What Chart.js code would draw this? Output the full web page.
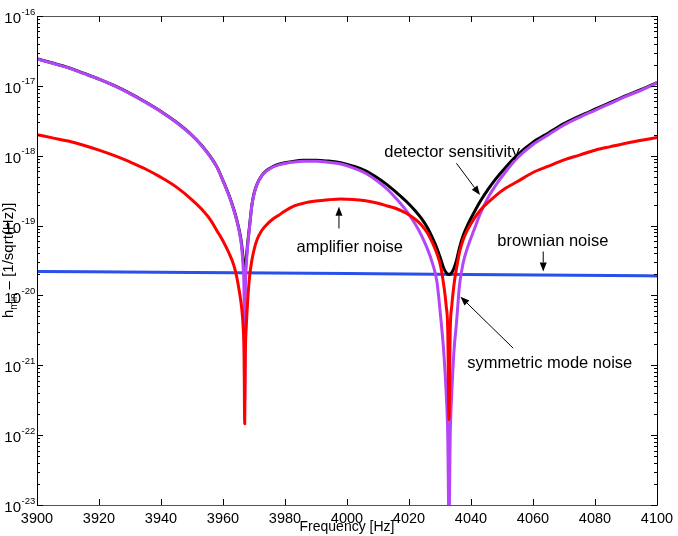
<!DOCTYPE html>
<html>
<head>
<meta charset="utf-8">
<script src="https://cdn.jsdelivr.net/npm/chart.js@4.4.1/dist/chart.umd.min.js"></script>
<style>
  html, body { margin: 0; padding: 0; background: #fff; }
  #wrap { width: 678px; height: 536px; position: relative; }
</style>
</head>
<body>
<div id="wrap"><canvas id="chart"></canvas></div>
<script>
// frequency grid [Hz], denser around the two dips
const freq = [3900, 3905, 3910, 3915, 3920, 3925, 3930, 3935, 3940, 3945,
  3950, 3953, 3956, 3958, 3960, 3962, 3963.5, 3964.5, 3965.3, 3966,
  3966.5, 3966.8, 3967, 3967.2, 3967.5, 3968, 3968.6, 3969.3, 3970, 3971,
  3972.5, 3974, 3976, 3978, 3980, 3983, 3986, 3990, 3994, 3998,
  4002, 4006, 4010, 4013, 4016, 4019, 4022, 4024, 4026, 4027.5,
  4029, 4030.2, 4031.2, 4032, 4032.5, 4032.9, 4033.3, 4033.8, 4034.5, 4035.3,
  4036.3, 4037.5, 4039, 4041, 4043, 4045.5, 4048, 4051, 4055, 4060,
  4065, 4070, 4075, 4080, 4085, 4090, 4095, 4100];

const amplifierNoise = [2.0e-18, 1.8e-18, 1.62e-18, 1.41e-18, 1.2e-18, 1.0e-18, 8.13e-19, 6.46e-19, 4.9e-19, 3.55e-19,
  2.34e-19, 1.74e-19, 1.2e-19, 8.51e-20, 6.03e-20, 3.98e-20, 2.69e-20, 1.78e-20, 1.12e-20, 6.76e-21,
  3.55e-21, 1.41e-21, 1.45e-22, 1.41e-21, 3.55e-21, 8.91e-21, 1.91e-20, 3.16e-20, 4.47e-20, 6.31e-20,
  8.51e-20, 1.02e-19, 1.23e-19, 1.41e-19, 1.62e-19, 1.91e-19, 2.09e-19, 2.24e-19, 2.34e-19, 2.4e-19,
  2.37e-19, 2.26e-19, 2.09e-19, 1.91e-19, 1.74e-19, 1.51e-19, 1.23e-19, 1.02e-19, 7.76e-20, 5.75e-20,
  3.98e-20, 2.63e-20, 1.41e-20, 7.08e-21, 3.16e-21, 1.66e-22, 3.16e-21, 7.08e-21, 1.41e-20, 2.4e-20,
  4.17e-20, 6.31e-20, 8.91e-20, 1.26e-19, 1.66e-19, 2.14e-19, 2.69e-19, 3.39e-19, 4.27e-19, 5.75e-19,
  7.08e-19, 8.71e-19, 1.02e-18, 1.2e-18, 1.35e-18, 1.51e-18, 1.66e-18, 1.82e-18];

const symmetricModeNoise = [2.43e-17, 2.11e-17, 1.82e-17, 1.51e-17, 1.245e-17, 1.0e-17, 7.76e-18, 5.82e-18, 4.27e-18, 2.99e-18,
  1.95e-18, 1.41e-18, 9.55e-19, 6.92e-19, 4.37e-19, 2.63e-19, 1.66e-19, 1.15e-19, 7.94e-20, 5.01e-20,
  2.51e-20, 1.0e-20, 3.16e-22, 1.0e-20, 2.63e-20, 5.37e-20, 9.77e-20, 1.91e-19, 2.82e-19, 3.89e-19,
  5.13e-19, 6.03e-19, 6.84e-19, 7.41e-19, 7.76e-19, 8.13e-19, 8.32e-19, 8.32e-19, 8.04e-19, 7.59e-19,
  6.68e-19, 5.62e-19, 4.27e-19, 3.31e-19, 2.4e-19, 1.66e-19, 1.05e-19, 7.24e-20, 4.57e-20, 2.95e-20,
  1.58e-20, 5.01e-21, 1.58e-21, 3.98e-22, 1.0e-22, 5.0e-24, 1.0e-22, 3.98e-22, 1.58e-21, 3.98e-21,
  1.41e-20, 2.95e-20, 5.01e-20, 8.71e-20, 1.48e-19, 2.51e-19, 3.8e-19, 5.75e-19, 9.33e-19, 1.45e-18,
  2.0e-18, 2.75e-18, 3.55e-18, 4.47e-18, 5.62e-18, 7.08e-18, 8.71e-18, 1.1e-17];

const detectorSensitivity = [2.44e-17, 2.12e-17, 1.83e-17, 1.517e-17, 1.25e-17, 1.005e-17, 7.8e-18, 5.86e-18, 4.3e-18, 3.01e-18,
  1.964e-18, 1.42e-18, 9.62e-19, 6.97e-19, 4.41e-19, 2.67e-19, 1.695e-19, 1.18e-19, 8.29e-20, 5.48e-20,
  3.31e-20, 2.35e-20, 2.12e-20, 2.35e-20, 3.4e-20, 5.84e-20, 1.018e-19, 1.947e-19, 2.86e-19, 3.94e-19,
  5.2e-19, 6.12e-19, 6.95e-19, 7.54e-19, 7.93e-19, 8.35e-19, 8.58e-19, 8.62e-19, 8.37e-19, 7.96e-19,
  7.09e-19, 6.06e-19, 4.75e-19, 3.82e-19, 2.96e-19, 2.25e-19, 1.63e-19, 1.267e-19, 9.23e-20, 6.77e-20,
  4.74e-20, 3.34e-20, 2.45e-20, 2.12e-20, 2.02e-20, 2.0e-20, 2.02e-20, 2.12e-20, 2.45e-20, 3.15e-20,
  4.84e-20, 7.25e-20, 1.04e-19, 1.545e-19, 2.23e-19, 3.3e-19, 4.66e-19, 6.67e-19, 1.026e-18, 1.56e-18,
  2.12e-18, 2.88e-18, 3.69e-18, 4.63e-18, 5.78e-18, 7.24e-18, 8.87e-18, 1.115e-17];

const brownianFreq = [3900, 3950, 4000, 4050, 4100];
const brownianNoise = [2.2e-20, 2.13e-20, 2.06e-20, 1.98e-20, 1.9e-20];

// axis ticks
const xTicks = [3900, 3920, 3940, 3960, 3980, 4000, 4020, 4040, 4060, 4080, 4100];
const yExponents = [-23, -22, -21, -20, -19, -18, -17, -16];

// labels with arrows, in data units
const notes = [
  { text: 'detector sensitivity', at: [4033.9, 1.1e-18], from: [4035.3, 7.8e-19], to: [4042.9, 2.75e-19] },
  { text: 'amplifier noise', at: [4000.9, 4.8e-20], from: [3997.4, 9.1e-20], to: [3997.4, 1.86e-19] },
  { text: 'brownian noise', at: [4066.4, 5.9e-20], from: [4063.3, 4.25e-20], to: [4063.3, 2.2e-20] },
  { text: 'symmetric mode noise', at: [4065.4, 1.07e-21], from: [4053.6, 1.76e-21], to: [4036.6, 9.6e-21] }
];

const FONT = "'Liberation Sans', Arial, Helvetica, sans-serif";

function pts(xs, ys) {
  return xs.map((x, i) => ({ x: x, y: ys[i] }));
}

function line(label, xs, ys, color, order) {
  return {
    label: label,
    data: pts(xs, ys),
    borderColor: color,
    borderWidth: 3,
    pointRadius: 0,
    fill: false,
    cubicInterpolationMode: 'monotone',
    borderJoinStyle: 'round',
    clip: 0,
    order: order
  };
}

function arrow(ctx, x0, y0, x1, y1) {
  const ang = Math.atan2(y1 - y0, x1 - x0);
  const len = 9, half = 3.5;
  const bx = x1 - len * Math.cos(ang), by = y1 - len * Math.sin(ang);
  ctx.beginPath();
  ctx.moveTo(x0, y0);
  ctx.lineTo(bx, by);
  ctx.stroke();
  ctx.beginPath();
  ctx.moveTo(x1, y1);
  ctx.lineTo(bx + half * Math.sin(ang), by - half * Math.cos(ang));
  ctx.lineTo(bx - half * Math.sin(ang), by + half * Math.cos(ang));
  ctx.closePath();
  ctx.fill();
}

const framePlugin = {
  id: 'frame',
  afterDraw(chart) {
    const { ctx, chartArea: a } = chart;
    const xs = chart.scales.x, ys = chart.scales.y;
    ctx.save();
    ctx.fillStyle = '#000';
    ctx.strokeStyle = '#000';
    ctx.lineWidth = 1;

    // annotations
    ctx.font = '16.5px ' + FONT;
    ctx.textAlign = 'center';
    ctx.textBaseline = 'middle';
    notes.forEach(n => {
      ctx.fillText(n.text, xs.getPixelForValue(n.at[0]), ys.getPixelForValue(n.at[1]));
      arrow(ctx,
        xs.getPixelForValue(n.from[0]), ys.getPixelForValue(n.from[1]),
        xs.getPixelForValue(n.to[0]), ys.getPixelForValue(n.to[1]));
    });

    // box
    ctx.strokeStyle = '#000';
    ctx.beginPath();
    ctx.moveTo(a.left + 0.5, a.top); ctx.lineTo(a.left + 0.5, a.bottom + 1);
    ctx.moveTo(a.right + 0.5, a.top); ctx.lineTo(a.right + 0.5, a.bottom + 1);
    ctx.stroke();
    ctx.strokeStyle = '#555';
    ctx.beginPath();
    ctx.moveTo(a.left, a.top + 0.5); ctx.lineTo(a.right + 1, a.top + 0.5);
    ctx.moveTo(a.left, a.bottom + 0.5); ctx.lineTo(a.right + 1, a.bottom + 0.5);
    ctx.stroke();

    // x ticks (inward, top and bottom)
    ctx.strokeStyle = '#000';
    ctx.beginPath();
    xTicks.forEach(v => {
      const px = Math.round(xs.getPixelForValue(v)) + 0.5;
      ctx.moveTo(px, a.bottom); ctx.lineTo(px, a.bottom - 6);
      ctx.moveTo(px, a.top); ctx.lineTo(px, a.top + 6);
    });
    // y ticks, decades and minors, on both sides
    yExponents.forEach((e, i) => {
      const py = Math.round(ys.getPixelForValue(Math.pow(10, e))) + 0.5;
      ctx.moveTo(a.left, py); ctx.lineTo(a.left + 6, py);
      ctx.moveTo(a.right, py); ctx.lineTo(a.right - 6, py);
      if (i < yExponents.length - 1) {
        for (let m = 2; m <= 9; m++) {
          const q = Math.round(ys.getPixelForValue(m * Math.pow(10, e))) + 0.5;
          ctx.moveTo(a.left, q); ctx.lineTo(a.left + 3, q);
          ctx.moveTo(a.right, q); ctx.lineTo(a.right - 3, q);
        }
      }
    });
    ctx.stroke();

    ctx.font = '14.5px ' + FONT;
    ctx.textAlign = 'center';
    ctx.textBaseline = 'middle';
    xTicks.forEach(v => {
      ctx.fillText(String(v), xs.getPixelForValue(v), a.bottom + 13.5);
    });

    yExponents.forEach(e => {
      const py = ys.getPixelForValue(Math.pow(10, e));
      ctx.font = '15px ' + FONT;
      ctx.textAlign = 'right';
      ctx.fillText('10', 21, py + 3);
      ctx.font = '9.5px ' + FONT;
      ctx.textAlign = 'left';
      ctx.fillText('-' + Math.abs(e), 21.5, py - 4);
    });

    // axis titles
    ctx.font = '14px ' + FONT;
    ctx.textAlign = 'center';
    ctx.fillText('Frequency [Hz]', 347, a.bottom + 22);

    ctx.translate(13, 318);
    ctx.rotate(-Math.PI / 2);
    ctx.textAlign = 'left';
    ctx.textBaseline = 'alphabetic';
    ctx.font = '15px ' + FONT;
    const wh = ctx.measureText('h').width;
    ctx.fillText('h', 0, 0);
    ctx.font = '10px ' + FONT;
    const wm = ctx.measureText('min').width;
    ctx.fillText('min', wh, 4);
    ctx.font = '15px ' + FONT;
    ctx.fillText(' \u2013 [1/sqrt(Hz)]', wh + wm, 0);
    ctx.restore();
  }
};

new Chart(document.getElementById('chart'), {
  type: 'line',
  data: {
    datasets: [
      line('amplifier noise', freq, amplifierNoise, 'rgb(255,0,0)', 0),
      line('symmetric mode noise', freq, symmetricModeNoise, 'rgb(180,70,245)', 1),
      line('detector sensitivity', freq, detectorSensitivity, 'rgb(0,0,0)', 2),
      line('brownian noise', brownianFreq, brownianNoise, 'rgb(40,80,235)', 3)
    ]
  },
  options: {
    responsive: true,
    maintainAspectRatio: false,
    animation: false,
    layout: { padding: { left: 37, top: 16, right: 21, bottom: 31 } },
    plugins: { legend: { display: false }, tooltip: { enabled: false } },
    scales: {
      x: { type: 'linear', min: 3900, max: 4100, display: false },
      y: { type: 'logarithmic', min: 1e-23, max: 1e-16, display: false }
    }
  },
  plugins: [framePlugin]
});
</script>
</body>
</html>
